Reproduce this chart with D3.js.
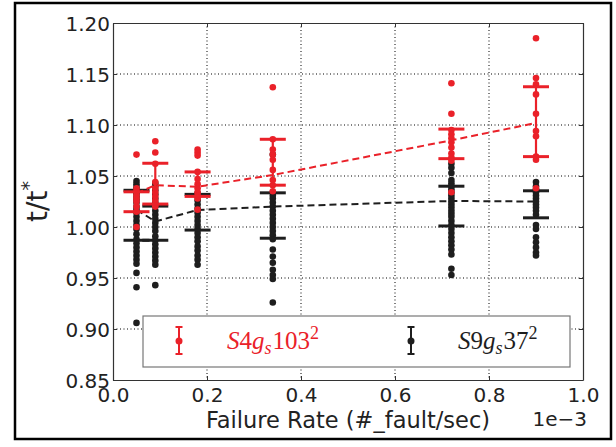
<!DOCTYPE html>
<html>
<head>
<meta charset="utf-8">
<script src="https://cdn.jsdelivr.net/npm/d3@7"></script>
<style>
  body { margin: 0; background: #fff; }
  svg text { font-family: "DejaVu Sans", sans-serif; }
</style>
</head>
<body>
<svg id="chart" width="616" height="447"></svg>
<script>
// failure rates (x 1e-3)
var rates = [0.05, 0.09, 0.18, 0.34, 0.72, 0.90];
var xTicks = [0.0, 0.2, 0.4, 0.6, 0.8, 1.0];
var yTicks = [0.85, 0.90, 0.95, 1.00, 1.05, 1.10, 1.15, 1.20];

// S4gs103^2 (red)
var redLine = [1.033, 1.041, 1.0395, 1.051, 1.085, 1.102];
var redLow = [1.015, 1.0225, 1.030, 1.041, 1.067, 1.069];
var redHigh = [1.0345, 1.0625, 1.054, 1.086, 1.096, 1.1375];
var redPoints = [
    [1.071, 1.038, 1.035, 1.031, 1.028, 1.025, 1.020, 1.015, 1.000],
    [1.084, 1.073, 1.062, 1.044, 1.038, 1.034, 1.030, 1.026, 1.022, 1.020],
    [1.076, 1.073, 1.070, 1.054, 1.047, 1.042, 1.038, 1.034, 1.031, 1.028, 1.017],
    [1.137, 1.086, 1.076, 1.071, 1.066, 1.056, 1.046, 1.041, 1.035],
    [1.141, 1.111, 1.095, 1.091, 1.087, 1.083, 1.078, 1.072, 1.068, 1.065, 1.034],
    [1.185, 1.146, 1.140, 1.130, 1.111, 1.094, 1.089, 1.069, 1.066, 1.038]
];

// S9gs37^2 (black)
var blackLine = [1.017, 1.0054, 1.0167, 1.020, 1.0255, 1.025];
var blackLow = [0.987, 0.987, 0.997, 0.989, 1.001, 1.009];
var blackHigh = [1.036, 1.0205, 1.032, 1.0335, 1.040, 1.0355];
var blackPoints = [
    [1.045, 1.042, 1.039, 1.036, 1.033, 1.030, 1.027, 1.024, 1.020, 1.017, 1.014, 1.010, 1.006, 1.002,
        0.998, 0.993, 0.988, 0.984, 0.980, 0.976, 0.972, 0.968, 0.964, 0.955, 0.941, 0.906],
    [1.043, 1.040, 1.036, 1.032, 1.028, 1.024, 1.020, 1.016, 1.012, 1.008, 1.004, 1.000, 0.996, 0.991,
        0.987, 0.983, 0.979, 0.975, 0.971, 0.967, 0.963, 0.943],
    [1.033, 1.030, 1.026, 1.022, 1.018, 1.014, 1.010, 1.006, 1.002, 0.998, 0.994, 0.990, 0.986, 0.981,
        0.977, 0.972, 0.968, 0.963],
    [1.071, 1.034, 1.031, 1.028, 1.024, 1.020, 1.016, 1.012, 1.008, 1.004, 1.000, 0.996, 0.992, 0.988,
        0.978, 0.971, 0.965, 0.958, 0.953, 0.949, 0.926],
    [1.062, 1.058, 1.053, 1.046, 1.043, 1.040, 1.037, 1.034, 1.031, 1.028, 1.025, 1.022, 1.019, 1.016,
        1.013, 1.010, 1.006, 1.002, 0.998, 0.994, 0.990, 0.986, 0.982, 0.978, 0.973, 0.959, 0.953],
    [1.044, 1.040, 1.037, 1.034, 1.031, 1.028, 1.025, 1.022, 1.019, 1.016, 1.012, 1.002, 0.998, 0.990,
        0.985, 0.980, 0.975, 0.972]
];

var redColor = "#ea2129";
var blackColor = "#1e1e1e";

var margin = { top: 23, right: 33, bottom: 67, left: 113 };
var width = 616 - margin.left - margin.right;
var height = 447 - margin.top - margin.bottom;

var svg = d3.select("#chart");

// outer frame
svg.append("rect")
    .attr("x", 15).attr("y", 3)
    .attr("width", 596).attr("height", 436)
    .attr("fill", "none")
    .attr("stroke", "#000")
    .attr("stroke-width", 2.5);

var chartG = svg.append("g")
    .attr("transform", "translate(" + margin.left + "," + margin.top + ")");

var x = d3.scaleLinear().domain([0, 1.0]).range([0, width]);
var y = d3.scaleLinear().domain([0.85, 1.20]).range([height, 0]);

// grid
chartG.append("g").selectAll("line")
    .data(xTicks.slice(1, -1))
    .enter().append("line")
    .attr("x1", function (d) { return x(d); })
    .attr("x2", function (d) { return x(d); })
    .attr("y1", 0).attr("y2", height)
    .attr("stroke", "#000").attr("stroke-width", 1)
    .attr("stroke-dasharray", "1,2.5");

chartG.append("g").selectAll("line")
    .data(yTicks.slice(1, -1))
    .enter().append("line")
    .attr("y1", function (d) { return y(d); })
    .attr("y2", function (d) { return y(d); })
    .attr("x1", 0).attr("x2", width)
    .attr("stroke", "#000").attr("stroke-width", 1)
    .attr("stroke-dasharray", "1,2.5");

// axes, ticks pointing inward
var xAxis = chartG.append("g")
    .attr("class", "xAxis")
    .attr("transform", "translate(0," + height + ")")
    .call(d3.axisBottom(x).tickValues(xTicks).tickFormat(d3.format(".1f"))
        .tickSizeInner(-4).tickSizeOuter(0).tickPadding(8));

var yAxis = chartG.append("g")
    .attr("class", "yAxis")
    .call(d3.axisLeft(y).tickValues(yTicks).tickFormat(d3.format(".2f"))
        .tickSizeInner(-4).tickSizeOuter(0).tickPadding(3));

chartG.append("g")
    .call(d3.axisTop(x).tickValues(xTicks).tickFormat("").tickSizeInner(-4).tickSizeOuter(0));

chartG.append("g")
    .attr("transform", "translate(" + width + ",0)")
    .call(d3.axisRight(y).tickValues(yTicks).tickFormat("").tickSizeInner(-4).tickSizeOuter(0));

chartG.selectAll(".domain").attr("stroke", "#333").attr("stroke-width", 1.2);
chartG.selectAll(".tick line").attr("stroke", "#333");
chartG.selectAll(".tick text")
    .attr("font-size", 20)
    .attr("fill", "#222")
    .style("font-family", "'DejaVu Sans', sans-serif");
yAxis.selectAll(".tick text").attr("dy", "0.36em");

// axis labels
svg.append("text")
    .attr("x", margin.left + width / 2)
    .attr("y", 428)
    .attr("text-anchor", "middle")
    .attr("font-size", 22.5)
    .attr("fill", "#222")
    .text("Failure Rate (#_fault/sec)");

svg.append("text")
    .attr("x", 587)
    .attr("y", 426)
    .attr("text-anchor", "end")
    .attr("font-size", 20)
    .attr("fill", "#222")
    .text("1e\u22123");

var yLabel = svg.append("text")
    .attr("transform", "translate(47," + (margin.top + height / 2) + ") rotate(-90)")
    .attr("text-anchor", "middle")
    .attr("font-size", 28)
    .attr("fill", "#222");
yLabel.append("tspan").text("t/t");
yLabel.append("tspan").attr("dy", -12).attr("font-size", 19).text("*");

function drawSeries(points, low, high, line, color) {
    var g = chartG.append("g");

    var flat = [];
    points.forEach(function (col, i) {
        col.forEach(function (v) {
            flat.push({ rate: rates[i], value: v });
        });
    });

    g.selectAll("circle")
        .data(flat)
        .enter().append("circle")
        .attr("cx", function (d) { return x(d.rate); })
        .attr("cy", function (d) { return y(d.value); })
        .attr("r", 3.3)
        .attr("fill", color);

    var bars = rates.map(function (r, i) {
        return { rate: r, low: low[i], high: high[i] };
    });

    g.selectAll(".bar")
        .data(bars)
        .enter().append("line")
        .attr("class", "bar")
        .attr("x1", function (d) { return x(d.rate); })
        .attr("x2", function (d) { return x(d.rate); })
        .attr("y1", function (d) { return y(d.low); })
        .attr("y2", function (d) { return y(d.high); })
        .attr("stroke", color).attr("stroke-width", 2.2);

    ["low", "high"].forEach(function (k) {
        g.selectAll(".cap" + k)
            .data(bars)
            .enter().append("line")
            .attr("class", "cap" + k)
            .attr("x1", function (d) { return x(d.rate) - 13; })
            .attr("x2", function (d) { return x(d.rate) + 13; })
            .attr("y1", function (d) { return y(d[k]); })
            .attr("y2", function (d) { return y(d[k]); })
            .attr("stroke", color).attr("stroke-width", 3);
    });

    var path = d3.line()
        .x(function (d, i) { return x(rates[i]); })
        .y(function (d) { return y(d); });

    g.append("path")
        .datum(line)
        .attr("d", path)
        .attr("fill", "none")
        .attr("stroke", color)
        .attr("stroke-width", 2)
        .attr("stroke-dasharray", "7,4");
}

drawSeries(blackPoints, blackLow, blackHigh, blackLine, blackColor);
drawSeries(redPoints, redLow, redHigh, redLine, redColor);

// legend
var legend = svg.append("g");
legend.append("rect")
    .attr("x", 143).attr("y", 316)
    .attr("width", 427).attr("height", 51)
    .attr("fill", "#fff")
    .attr("stroke", "#777").attr("stroke-width", 1.2);

var legendItems = [
    { color: redColor, mx: 179, tx: 227, parts: ["S", "4", "g", "s", "103", "2"] },
    { color: blackColor, mx: 411, tx: 458, parts: ["S", "9", "g", "s", "37", "2"] }
];

legendItems.forEach(function (item) {
    legend.append("line")
        .attr("x1", item.mx).attr("x2", item.mx)
        .attr("y1", 327).attr("y2", 354)
        .attr("stroke", item.color).attr("stroke-width", 2);
    [327, 354].forEach(function (cy) {
        legend.append("line")
            .attr("x1", item.mx - 3.5).attr("x2", item.mx + 3.5)
            .attr("y1", cy).attr("y2", cy)
            .attr("stroke", item.color).attr("stroke-width", 2);
    });
    legend.append("circle")
        .attr("cx", item.mx).attr("cy", 341)
        .attr("r", 3.5)
        .attr("fill", item.color);

    var t = legend.append("text")
        .attr("x", item.tx).attr("y", 349)
        .attr("font-size", 25)
        .attr("fill", item.color)
        .style("font-family", "'Liberation Serif', 'DejaVu Serif', serif");
    var p = item.parts;
    t.append("tspan").attr("font-style", "italic").text(p[0]);
    t.append("tspan").text(p[1]);
    t.append("tspan").attr("font-style", "italic").text(p[2]);
    t.append("tspan").attr("font-style", "italic").attr("font-size", 18).attr("dy", 5).text(p[3]);
    t.append("tspan").attr("dy", -5).attr("dx", 1).text(p[4]);
    t.append("tspan").attr("font-size", 18).attr("dy", -10).text(p[5]);
});
</script>
</body>
</html>
